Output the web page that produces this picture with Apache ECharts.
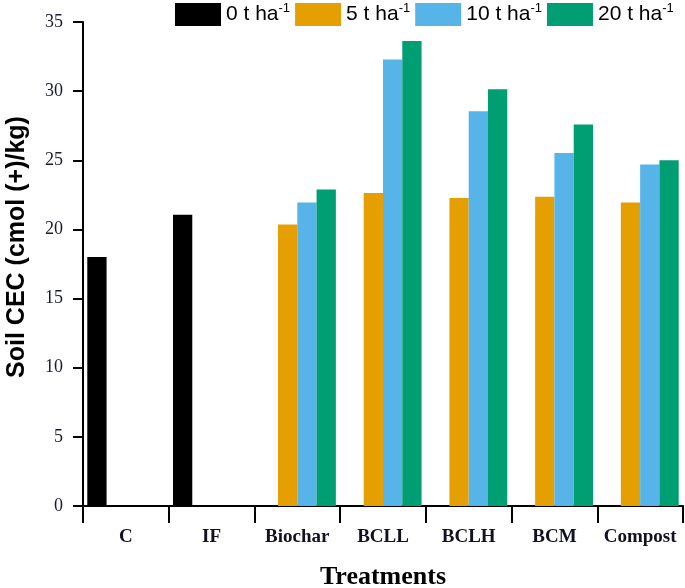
<!DOCTYPE html>
<html>
<head>
<meta charset="utf-8">
<script src="https://cdn.jsdelivr.net/npm/echarts@6/dist/echarts.min.js"></script>
<style>html,body{margin:0;padding:0;background:#fff;}#c{width:685px;height:588px;}</style>
</head>
<body>
<div id="c"></div>
<script>
const categories = ['C', 'IF', 'Biochar', 'BCLL', 'BCLH', 'BCM', 'Compost'];
const seriesNames = ['0 t ha-1', '5 t ha-1', '10 t ha-1', '20 t ha-1'];
const rate0 = [18.0, 21.07, null, null, null, null, null];
const rate5 = [null, null, 20.35, 22.63, 22.27, 22.37, 21.94];
const rate10 = [null, null, 21.94, 32.28, 28.54, 25.52, 24.69];
const rate20 = [null, null, 22.88, 33.62, 30.13, 27.58, 25.0];
const colors = ['#000000', '#E69F00', '#56B4E9', '#009E73'];
const yTicks = { min: 0, max: 35, interval: 5 };

const chart = echarts.init(document.getElementById('c'));
const allData = [rate0, rate5, rate10, rate20];
chart.setOption({
  animation: false,
  grid: { left: 83, right: 2, top: 22, bottom: 82, containLabel: false, outerBoundsMode: 'none' },
  legend: {
    top: 2, left: 175, width: 510, padding: 0, itemWidth: 46, itemHeight: 23, itemGap: 5,
    icon: 'rect',
    data: seriesNames,
    formatter: function (n) { const p = n.split('-'); return '{a|' + p[0] + '}{s|-' + p[1] + '}'; },
    textStyle: {
      color: '#000',
      rich: {
        a: { fontFamily: 'Liberation Sans, Arial', fontSize: 21, color: '#000' },
        s: { fontFamily: 'Liberation Sans, Arial', fontSize: 13, color: '#000', padding: [0, 0, 12, 0] }
      }
    }
  },
  xAxis: {
    type: 'category', data: categories,
    axisLine: { lineStyle: { color: '#000', width: 2 } },
    axisTick: { show: true, length: 17, lineStyle: { color: '#000', width: 2 } },
    axisLabel: { interval: 0, margin: 22, fontFamily: 'Liberation Serif, Times New Roman', fontWeight: 'bold', fontSize: 19, color: '#111122' },
    name: 'Treatments', nameLocation: 'middle', nameGap: 58,
    nameTextStyle: { fontFamily: 'Liberation Serif, Times New Roman', fontWeight: 'bold', fontSize: 26, color: '#000' }
  },
  yAxis: {
    type: 'value', min: yTicks.min, max: yTicks.max, interval: yTicks.interval,
    splitLine: { show: false },
    axisLine: { show: true, lineStyle: { color: '#000', width: 2 } },
    axisTick: { show: true, length: 10, lineStyle: { color: '#000', width: 2 } },
    axisLabel: { margin: 20, fontFamily: 'Liberation Serif, Times New Roman', fontSize: 18, color: '#1a1a33' },
    name: 'Soil CEC (cmol (+)/kg)', nameLocation: 'middle', nameGap: 53, nameRotate: 90,
    nameTextStyle: { fontFamily: 'Liberation Sans, Arial', fontWeight: 'bold', fontSize: 25, color: '#000', padding: [0, 0, 0, 34] }
  },
  series: seriesNames.map((n, i) => ({
    name: n, type: 'bar', data: allData[i],
    barGap: '0%', barCategoryGap: '10%',
    itemStyle: { color: colors[i] }
  }))
});
</script>
</body>
</html>
